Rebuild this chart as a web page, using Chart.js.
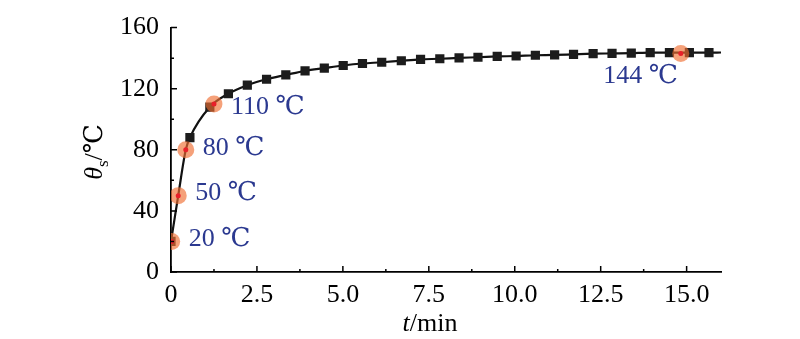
<!DOCTYPE html>
<html>
<head>
<meta charset="utf-8">
<script src="https://cdn.jsdelivr.net/npm/chart.js@4"></script>
<style>
  body { margin: 0; background: #fff; }
  canvas { display: block; }
</style>
</head>
<body>
<canvas id="grafico" width="800" height="339"></canvas>
<script>
// puntos medidos (cuadrados)
const tiempos = [0, 0.55, 1.13, 1.67, 2.22, 2.78, 3.34, 3.90, 4.46, 5.01, 5.57, 6.13, 6.70,
  7.26, 7.82, 8.38, 8.93, 9.49, 10.04, 10.60, 11.16, 11.71, 12.28, 12.83, 13.39, 13.94,
  14.50, 15.08, 15.65];
const temps = [20, 88, 108, 116.7, 122.3, 126.2, 129, 131.7, 133.5, 135.2, 136.5, 137.3, 138.3,
  139.2, 139.6, 140.2, 140.6, 141.1, 141.4, 141.9, 142.1, 142.5, 142.9, 143.1, 143.3, 143.6,
  143.6, 143.6, 143.6];

// puntos marcados (circulos)
const tMarcas = [0.02, 0.21, 0.43, 1.25, 14.83];
const thMarcas = [20, 50, 80, 110, 143];
const textosMarcas = ["20 ℃", "50 ℃", "80 ℃", "110 ℃", "144 ℃"];

// curva ajustada
const tCurva = [0, 0.21, 0.43, 0.55, 1.13, 1.67, 2.22, 2.78, 3.34, 3.90, 4.46, 5.01, 5.57, 6.13,
  6.70, 7.26, 7.82, 8.38, 8.93, 9.49, 10.04, 10.60, 11.16, 11.71, 12.28, 12.83, 13.39, 13.94,
  14.50, 15.08, 15.65, 16.0];
const thCurva = [20, 50, 80, 88, 108, 116.7, 122.3, 126.2, 129, 131.7, 133.5, 135.2, 136.5, 137.3,
  138.3, 139.2, 139.6, 140.2, 140.6, 141.1, 141.4, 141.9, 142.1, 142.5, 142.9, 143.1, 143.3, 143.6,
  143.6, 143.6, 143.6, 143.7];

const xTicks = [0, 2.5, 5, 7.5, 10, 12.5, 15];
const yTicks = [0, 40, 80, 120, 160];

const serif = "'Liberation Serif', 'DejaVu Serif', serif";
const azul = "#2b3990";

function pares(xs, ys) {
  return xs.map((x, i) => ({ x: x, y: ys[i] }));
}

// ticks hacia dentro + etiquetas + titulos
const extras = {
  id: "extras",
  afterDraw(chart) {
    const ctx = chart.ctx;
    const sx = chart.scales.x;
    const sy = chart.scales.y;
    const area = chart.chartArea;
    ctx.save();
    ctx.strokeStyle = "#000";
    ctx.lineWidth = 1.5;
    ctx.beginPath();
    xTicks.forEach(v => {
      const px = sx.getPixelForValue(v);
      ctx.moveTo(px, area.bottom); ctx.lineTo(px, area.bottom - 6);
      const pm = sx.getPixelForValue(v + 1.25);
      if (v + 1.25 <= 16) { ctx.moveTo(pm, area.bottom); ctx.lineTo(pm, area.bottom - 3); }
    });
    yTicks.forEach(v => {
      const py = sy.getPixelForValue(v);
      ctx.moveTo(area.left, py); ctx.lineTo(area.left + 6, py);
      if (v + 20 <= 160) {
        const pm = sy.getPixelForValue(v + 20);
        ctx.moveTo(area.left, pm); ctx.lineTo(area.left + 3, pm);
      }
    });
    ctx.stroke();

    // etiquetas de temperatura
    ctx.fillStyle = azul;
    ctx.font = "26px " + serif;
    ctx.textBaseline = "middle";
    textosMarcas.forEach((txt, i) => {
      const px = sx.getPixelForValue(tMarcas[i]);
      const py = sy.getPixelForValue(thMarcas[i]);
      if (i === 4) {
        ctx.textAlign = "right";
        ctx.fillText(txt, px - 3, py + 23);
      } else {
        ctx.textAlign = "left";
        ctx.fillText(txt, px + 17, py + (i === 3 ? 3 : -2));
      }
    });

    // titulo eje x
    ctx.fillStyle = "#000";
    ctx.textBaseline = "alphabetic";
    ctx.textAlign = "left";
    const italica = "italic 26px " + serif;
    const normal = "26px " + serif;
    ctx.font = italica;
    const wt = ctx.measureText("t").width;
    ctx.font = normal;
    const wr = ctx.measureText("/min").width;
    let x0 = 430 - (wt + wr) / 2;
    ctx.font = italica;
    ctx.fillText("t", x0, 331);
    ctx.font = normal;
    ctx.fillText("/min", x0 + wt, 331);

    // titulo eje y
    ctx.translate(102, 152);
    ctx.rotate(-Math.PI / 2);
    ctx.font = italica;
    const wth = ctx.measureText("θ").width;
    ctx.font = "17px " + serif;
    const ws = ctx.measureText("s").width;
    ctx.font = normal;
    const wc = ctx.measureText("/℃").width;
    let y0 = -(wth + ws + wc) / 2;
    ctx.font = italica;
    ctx.fillText("θ", y0, 0);
    ctx.font = "17px " + serif;
    ctx.fillText("s", y0 + wth, 6);
    ctx.font = normal;
    ctx.fillText("/℃", y0 + wth + ws, 0);
    ctx.restore();
  }
};

new Chart(document.getElementById("grafico"), {
  type: "scatter",
  data: {
    datasets: [
      {
        label: "curva",
        data: pares(tCurva, thCurva),
        showLine: true,
        borderColor: "#111",
        borderWidth: 2.2,
        pointRadius: 0,
        cubicInterpolationMode: "monotone",
        order: 4
      },
      {
        label: "medidos",
        data: pares(tiempos, temps),
        pointStyle: "rect",
        pointRadius: 6.5,
        backgroundColor: "#1c1c1c",
        borderColor: "#1c1c1c",
        borderWidth: 0,
        order: 3
      },
      {
        label: "marcas",
        data: pares(tMarcas, thMarcas),
        pointRadius: 8.5,
        backgroundColor: "rgba(240,110,50,0.65)",
        borderWidth: 0,
        order: 2
      },
      {
        label: "centros",
        data: pares(tMarcas, thMarcas),
        pointRadius: 2.5,
        backgroundColor: "#e8202a",
        borderWidth: 0,
        order: 1
      }
    ]
  },
  options: {
    responsive: false,
    animation: false,
    layout: { padding: { top: 16, right: 79, left: 0, bottom: 0 } },
    plugins: { legend: { display: false }, tooltip: { enabled: false } },
    scales: {
      x: {
        type: "linear",
        min: 0,
        max: 16,
        afterFit: s => { s.height = 67; },
        grid: { display: true, drawOnChartArea: false, drawTicks: false },
        border: { display: true, color: "#000", width: 1.8 },
        ticks: {
          stepSize: 2.5,
          includeBounds: false,
          padding: 8,
          color: "#000",
          font: { family: serif, size: 26 },
          maxRotation: 0,
          callback: v => v === 0 ? "0" : v.toFixed(1)
        }
      },
      y: {
        min: 0,
        max: 160,
        afterFit: s => { s.width = 171; },
        grid: { display: true, drawOnChartArea: false, drawTicks: false },
        border: { display: true, color: "#000", width: 1.8 },
        ticks: {
          stepSize: 40,
          padding: 12,
          color: "#000",
          font: { family: serif, size: 26 }
        }
      }
    }
  },
  plugins: [extras]
});
</script>
</body>
</html>
